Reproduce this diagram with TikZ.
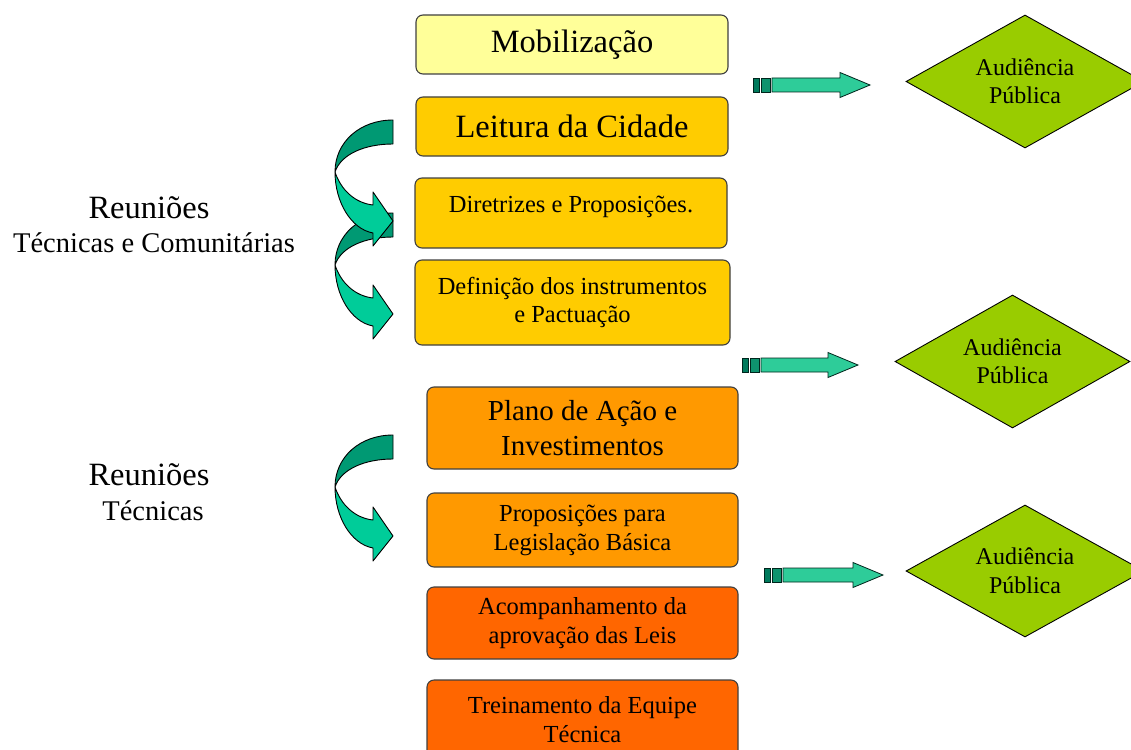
\documentclass[tikz,border=0pt]{standalone}
\usepackage{fontspec}
\setmainfont{Liberation Serif}
\usetikzlibrary{shapes.geometric}
\definecolor{paleyellow}{HTML}{FFFF99}
\definecolor{goldbox}{HTML}{FFCC00}
\definecolor{orangeA}{HTML}{FF9900}
\definecolor{orangeB}{HTML}{FF6600}
\definecolor{leaf}{HTML}{99CC00}
\definecolor{tealL}{HTML}{00CC99}
\definecolor{tealD}{HTML}{009973}
\definecolor{tealA}{HTML}{2ECC99}
\definecolor{tealS}{HTML}{007A5C}
\newcommand{\cvarrow}[2]{%
  \begin{scope}[shift={(#1,#2)}]
    \filldraw[fill=tealL, cvline] (-58,52) .. controls (-58,82) and (-42,109) .. (-20,113)
      -- (-20,126) -- (0,101) -- (-20,72) -- (-20,85)
      .. controls (-38,83) and (-52,70) .. (-58,52) -- cycle;
    \filldraw[fill=tealD, cvline] (0,0) .. controls (-33,0) and (-58,22) .. (-58,52)
      .. controls (-52,34) and (-28,24) .. (0,24) -- cycle;
  \end{scope}}
\newcommand{\strarrow}[4]{%
  \coordinate (#1) at (#2,#3);
  \begin{scope}[shift={(#1)}]
    \filldraw[fill=tealS, stline] (0,-7) rectangle (6,7);
    \filldraw[fill=tealS!70!tealA, stline] (8,-7) rectangle (17,7);
    \filldraw[fill=tealA, stline] (19,-7) -- ({#4-30},-7) -- ({#4-30},-12.5) -- (#4,0)
      -- ({#4-30},12.5) -- ({#4-30},7) -- (19,7) -- cycle;
  \end{scope}}
\begin{document}
\begin{tikzpicture}[x=1pt,y=-1pt,
  stage/.style={draw=black!75, line width=1.1pt, rounded corners=7pt, inner sep=0pt,
    align=center, font=\fontsize{24.5}{29}\selectfont},
  hearing/.style={diamond, shape aspect=1.8, draw=black, line width=0.9pt, fill=leaf, inner sep=0pt,
    align=center, font=\fontsize{24}{28.5}\selectfont},
  side/.style={inner sep=0pt, anchor=base, font=\fontsize{28.5}{34}\selectfont},
  cvline/.style={draw=black, line width=0.9pt, line join=round},
  stline/.style={draw=black!70!tealS, line width=0.8pt, line join=miter}]
\useasboundingbox (0,0) rectangle (1131,749);
\clip (0,0) rectangle (1131,749);

% stage boxes
\node[stage, fill=paleyellow, minimum width=312pt, minimum height=59pt,
  font=\fontsize{32.5}{38}\selectfont] (mob) at (572,44.5) {Mobilização};
\node[stage, fill=goldbox, minimum width=312pt, minimum height=59pt,
  font=\fontsize{32.5}{38}\selectfont] (lei) at (572,126.5) {Leitura da Cidade};
\node[stage, fill=goldbox, minimum width=312pt, minimum height=70pt] (dir) at (571,213) {};
\node[side, font=\fontsize{24.5}{29}\selectfont] (dirt) at (571,212) {Diretrizes e Proposições.};
\node[stage, fill=goldbox, minimum width=315pt, minimum height=85pt,
  font=\fontsize{24.5}{28.5}\selectfont] (def) at (572.5,302.5) {Definição dos instrumentos\\e Pactuação};
\node[stage, fill=orangeA, minimum width=311pt, minimum height=82pt,
  font=\fontsize{29}{35}\selectfont] (pla) at (582.5,428) {Plano de Ação e\\Investimentos};
\node[stage, fill=orangeA, minimum width=311pt, minimum height=74pt] (pro) at (582.5,530) {Proposições para\\Legislação Básica};
\node[stage, fill=orangeB, minimum width=311pt, minimum height=72pt] (aco) at (582.5,623) {Acompanhamento da\\aprovação das Leis};
\node[stage, fill=orangeB, minimum width=311pt, minimum height=80pt] (tre) at (582.5,720) {Treinamento da Equipe\\Técnica};

% public hearings
\node[hearing, minimum width=238pt, minimum height=133pt] (aud1) at (1025,81.5) {Audiência\\Pública};
\node[hearing, minimum width=235pt, minimum height=133pt] (aud2) at (1012.5,361.5) {Audiência\\Pública};
\node[hearing, minimum width=238pt, minimum height=132pt] (aud3) at (1025,571) {Audiência\\Pública};

% striped arrows
\strarrow{sa1}{753}{85}{117}
\strarrow{sa2}{742}{365}{116}
\strarrow{sa3}{764}{575}{119}

% curved arrows
\cvarrow{393}{213}
\cvarrow{393}{120}
\cvarrow{393}{435}

% side labels
\node[side, font=\fontsize{32.5}{38}\selectfont] (r1a) at (149,218) {Reuniões};
\node[side] (r1b) at (154,252) {Técnicas e Comunitárias};
\node[side, font=\fontsize{32.5}{38}\selectfont] (r2a) at (149,485) {Reuniões};
\node[side] (r2b) at (153,520) {Técnicas};
\end{tikzpicture}
\end{document}
